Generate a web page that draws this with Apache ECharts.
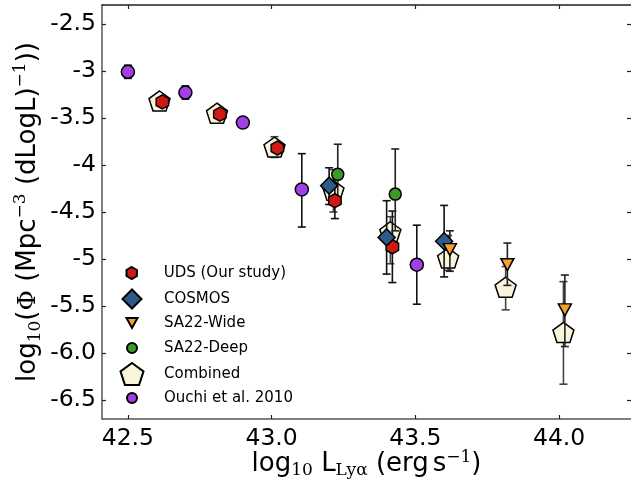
<!DOCTYPE html>
<html>
<head>
<meta charset="utf-8">
<script src="https://cdn.jsdelivr.net/npm/echarts@6/dist/echarts.min.js"></script>
<style>
html,body{margin:0;padding:0;background:#fff;}
#chart{width:631px;height:483px;}
</style>
</head>
<body>
<div id="chart"></div>
<script>
// ---- Data ----
const udsX = [42.62, 42.82, 43.02, 43.22, 43.42];
const udsY = [-3.33, -3.46, -3.82, -4.38, -4.87];
const udsLo = [-3.37, -3.50, -3.87, -4.57, -5.25];
const udsHi = [-3.29, -3.42, -3.77, -4.20, -4.49];

const cosmosX = [43.20, 43.40, 43.60];
const cosmosY = [-4.22, -4.77, -4.81];
const cosmosLo = [-4.42, -5.16, -5.19];
const cosmosHi = [-4.03, -4.38, -4.43];

const wideX = [43.62, 43.82, 44.02];
const wideY = [-4.90, -5.06, -5.54];
const wideLo = [-5.13, -5.28, -5.93];
const wideHi = [-4.70, -4.83, -5.17];

const deepX = [43.23, 43.43];
const deepY = [-4.10, -4.31];
const deepLo = [-4.40, -4.70];
const deepHi = [-3.78, -3.83];

const combX = [42.61, 42.81, 43.01, 43.215, 43.413, 43.614, 43.814, 44.015];
const combY = [-3.32, -3.45, -3.81, -4.27, -4.71, -4.99, -5.30, -5.78];
const combLo = [-3.36, -3.49, -3.92, -4.50, -5.05, -5.12, -5.54, -6.33];
const combHi = [-3.28, -3.41, -3.70, -4.05, -4.55, -4.75, -5.08, -5.24];

const ouchiX = [42.50, 42.70, 42.90, 43.105, 43.505];
const ouchiY = [-3.01, -3.23, -3.55, -4.26, -5.06];
const ouchiLo = [-3.08, -3.30, -3.60, -4.66, -5.48];
const ouchiHi = [-2.94, -3.16, -3.50, -3.88, -4.64];

const xTicks = [42.5, 43.0, 43.5, 44.0];
const xTickLabels = ['42.5', '43.0', '43.5', '44.0'];
const yTicks = [-2.5, -3, -3.5, -4, -4.5, -5, -5.5, -6, -6.5];
const yTickLabels = ['-2.5', '-3', '-3.5', '-4', '-4.5', '-5', '-5.5', '-6.0', '-6.5'];

const names = ['UDS (Our study)', 'COSMOS', 'SA22-Wide', 'SA22-Deep', 'Combined', 'Ouchi et al. 2010'];

// ---- helpers ----
function pts(xs, ys, lo, hi) { return xs.map((x, i) => [x, ys[i], lo[i], hi[i]]); }
const HEX = 'path://M0,-1 L0.866,-0.5 L0.866,0.5 L0,1 L-0.866,0.5 L-0.866,-0.5 Z';
const PENT = 'path://M0,-1 L0.951,-0.309 L0.588,0.809 L-0.588,0.809 L-0.951,-0.309 Z';
const TRIDOWN = 'path://M-1,-0.9 L1,-0.9 L0,0.9 Z';
const DIAM = 'path://M0,-1 L1,0 L0,1 L-1,0 Z';

function errSeries(name, data, color, z) {
  return {
    type: 'custom', name: name + '_err', data: data, z: z, silent: true,
    encode: { x: 0, y: [1, 2, 3] },
    renderItem: function (params, api) {
      const x = api.value(0);
      const lo = api.coord([x, api.value(2)]);
      const hi = api.coord([x, api.value(3)]);
      const cw = 4;
      const st = { stroke: color, lineWidth: 1.6 };
      return {
        type: 'group', children: [
          { type: 'line', shape: { x1: lo[0], y1: lo[1], x2: hi[0], y2: hi[1] }, style: st },
          { type: 'line', shape: { x1: lo[0] - cw, y1: lo[1], x2: lo[0] + cw, y2: lo[1] }, style: st },
          { type: 'line', shape: { x1: hi[0] - cw, y1: hi[1], x2: hi[0] + cw, y2: hi[1] }, style: st }
        ]
      };
    }
  };
}
function markSeries(name, data, symbol, size, color, z) {
  return {
    type: 'scatter', name: name, data: data.map(d => [d[0], d[1]]), z: z,
    symbol: symbol, symbolSize: size,
    itemStyle: { color: color, borderColor: '#000', borderWidth: 1.5, opacity: 1 },
    emphasis: { disabled: true }
  };
}

const uds = pts(udsX, udsY, udsLo, udsHi);
const cosmos = pts(cosmosX, cosmosY, cosmosLo, cosmosHi);
const wide = pts(wideX, wideY, wideLo, wideHi);
const deep = pts(deepX, deepY, deepLo, deepHi);
const comb = pts(combX, combY, combLo, combHi);
const ouchi = pts(ouchiX, ouchiY, ouchiLo, ouchiHi);

const COL = {
  uds: '#cf1a14', cosmos: '#2d5a87', wide: '#f7a130', deep: '#3d9a2a', comb: '#f9f5da', ouchi: '#a23fe6'
};

const series = [
  errSeries('Combined', comb, '#444', 1),
  markSeries(names[4], comb, PENT, [21, 20], COL.comb, 2),
  errSeries('UDS', uds, '#111', 3),
  markSeries(names[0], uds, HEX, [12.5, 14], COL.uds, 4),
  errSeries('COSMOS', cosmos, '#111', 3),
  markSeries(names[1], cosmos, DIAM, [17, 17], COL.cosmos, 5),
  errSeries('Wide', wide, '#222', 3),
  markSeries(names[2], wide, TRIDOWN, [13, 12], COL.wide, 6),
  errSeries('Deep', deep, '#222', 3),
  markSeries(names[3], deep, 'circle', 12, COL.deep, 7),
  errSeries('Ouchi', ouchi, '#111', 3),
  markSeries(names[5], ouchi, 'circle', 13, COL.ouchi, 7)
];

// legend: one component per entry so each icon keeps its own size
const LEG_CX = 131, LEG_TX = 163;
const legendRows = [
  { name: names[0], cy: 273, w: 11, h: 12 },
  { name: names[1], cy: 298, w: 19, h: 19 },
  { name: names[2], cy: 323, w: 11, h: 10 },
  { name: names[3], cy: 348, w: 10, h: 10 },
  { name: names[4], cy: 373, w: 23, h: 22 },
  { name: names[5], cy: 398, w: 10, h: 10 }
];
const legends = legendRows.map(r => ({
  data: [r.name], orient: 'vertical', left: LEG_CX - r.w / 2, top: r.cy - Math.max(r.h, 18) / 2,
  itemWidth: r.w, itemHeight: r.h, selectedMode: false, padding: 0,
  textStyle: {
    fontFamily: 'DejaVu Sans', fontSize: 15, color: '#000', lineHeight: 18,
    padding: [0, 0, 0, LEG_TX - (LEG_CX + r.w / 2 + 5)]
  }
}));

const FONT = 'DejaVu Sans';
const SERIF = 'DejaVu Serif';
const chart = echarts.init(document.getElementById('chart'), null, { renderer: 'canvas' });
chart.setOption({
  animation: false,
  backgroundColor: '#fff',
  grid: { left: 102, right: 0, top: 5, bottom: 64, containLabel: false, outerBoundsMode: 'none' },
  legend: legends,
  xAxis: [{
    type: 'value', min: 42.41, max: 44.25, position: 'bottom',
    splitLine: { show: false },
    axisLine: { show: true, onZero: false, lineStyle: { color: '#555', width: 1.5 } },
    axisTick: { show: true, inside: true, length: 4, customValues: xTicks, lineStyle: { color: '#222', width: 1.2 } },
    axisLabel: {
      customValues: xTicks, margin: 8,
      formatter: v => { const i = xTicks.findIndex(t => Math.abs(t - v) < 1e-6); return i >= 0 ? xTickLabels[i] : ''; },
      fontFamily: FONT, fontSize: 23.5, color: '#000'
    },
    name: 'log{s|10} L{s|Lyα} (erg{t| }s{p|−1})',
    nameLocation: 'middle', nameGap: 30, nameMoveOverlap: false,
    nameTextStyle: {
      fontFamily: FONT, fontSize: 26, color: '#000', lineHeight: 30,
      rich: {
        s: { fontFamily: SERIF, fontSize: 17, color: '#000', verticalAlign: 'bottom', lineHeight: 17 },
        p: { fontFamily: SERIF, fontSize: 17, color: '#000', verticalAlign: 'top', lineHeight: 17 },
        t: { fontFamily: FONT, fontSize: 12, color: '#000' }
      }
    }
  }, {
    type: 'value', min: 42.41, max: 44.25, position: 'top',
    splitLine: { show: false },
    axisLine: { show: true, onZero: false, lineStyle: { color: '#222', width: 1.5 } },
    axisTick: { show: true, inside: true, length: 4, customValues: xTicks, lineStyle: { color: '#222', width: 1.2 } },
    axisLabel: { show: false }
  }],
  yAxis: [{
    type: 'value', min: -6.70, max: -2.30, position: 'left',
    splitLine: { show: false },
    axisLine: { show: true, onZero: false, lineStyle: { color: '#555', width: 1.5 } },
    axisTick: { show: true, inside: true, length: 4, customValues: yTicks, lineStyle: { color: '#222', width: 1.2 } },
    axisLabel: {
      customValues: yTicks, margin: 6,
      formatter: v => { const i = yTicks.findIndex(t => Math.abs(t - v) < 1e-6); return i >= 0 ? yTickLabels[i] : ''; },
      fontFamily: FONT, fontSize: 23.5, color: '#000'
    },
    name: 'log{s|10}({f|Φ} (Mpc{p|−3} (dLogL){p|−1}))',
    nameLocation: 'middle', nameGap: 58, nameRotate: 90, nameMoveOverlap: false,
    nameTextStyle: {
      fontFamily: FONT, fontSize: 26, color: '#000', lineHeight: 32,
      rich: {
        s: { fontFamily: SERIF, fontSize: 17, color: '#000', verticalAlign: 'bottom', lineHeight: 17 },
        p: { fontFamily: SERIF, fontSize: 17, color: '#000', verticalAlign: 'top', lineHeight: 17 },
        f: { fontFamily: SERIF, fontSize: 25, color: '#000' }
      }
    }
  }, {
    type: 'value', min: -6.70, max: -2.30, position: 'right',
    splitLine: { show: false },
    axisLine: { show: false, onZero: false },
    axisTick: { show: true, inside: true, length: 4, customValues: yTicks, lineStyle: { color: '#222', width: 1.2 } },
    axisLabel: { show: false }
  }],
  series: series
});
</script>
</body>
</html>
